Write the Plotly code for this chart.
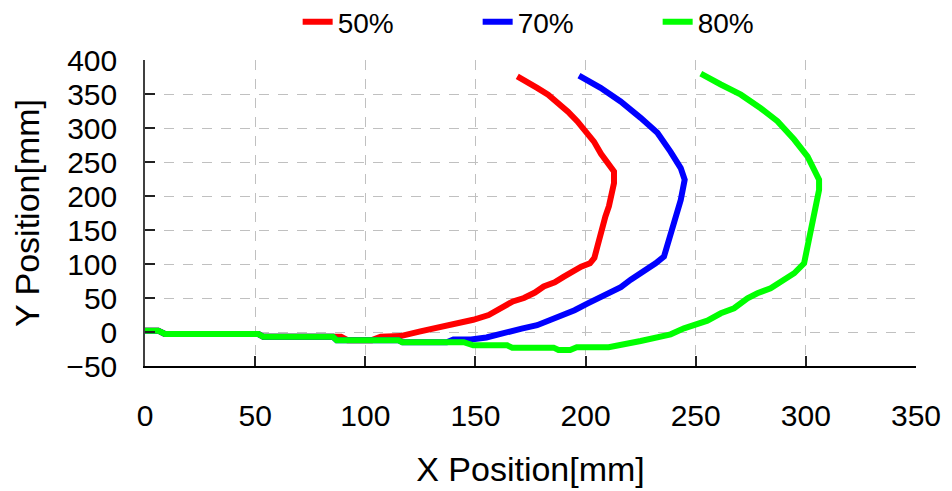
import plotly.graph_objects as go

# ---- data ----
series_names = ["50%", "70%", "80%"]
series_colors = ["#ff0000", "#0000ff", "#00ff00"]

x_50 = [0, 6, 9, 51.5, 53.7, 89, 92, 103, 107, 116, 125, 134, 142, 149, 156, 160, 163, 167, 172, 177,
        181, 186, 190, 194, 198, 202, 204, 205.3, 207.6, 209, 210.6, 212, 212.9, 212.9, 209.9, 207,
        203.8, 200, 196.2, 192, 187.1, 183, 178, 173, 169]
y_50 = [2, 2, -3, -3, -7, -7, -12, -12, -7, -6, 1, 7, 12, 18, 25, 32, 37, 45, 50, 58,
        67, 73, 81, 89, 96, 101, 109, 125, 155, 170, 185, 205, 219, 236, 248, 262,
        280, 296, 310, 324, 337, 349, 359, 369, 376]

x_70 = [0, 6, 9, 51.5, 53.7, 85.3, 87, 115, 117, 137, 140, 148, 155, 164, 171, 178, 184, 190, 195, 201,
        206, 211, 216, 220.5, 225, 231.8, 235.6, 237.9, 240.2, 243.2, 245, 243.2, 238.6, 232.6, 225,
        215.9, 206.8, 197]
y_70 = [2, 2, -3, -3, -7, -7, -12, -12, -15, -15, -11, -11, -8, 0, 5, 10, 17, 25, 32, 42,
        50, 57, 66, 77, 86, 101, 111, 135, 165, 194, 224, 241, 265, 293, 315,
        339, 359, 377]

x_80 = [0, 6, 9, 51.5, 53.7, 85.3, 87, 115, 116.7, 144.7, 149, 164.4, 166.7, 185.5, 187.7, 193, 196,
        210.5, 225, 238.6, 244.7, 250.8, 255.3, 261.4, 267.4, 273.5, 278, 284, 288.6, 294.7, 299.2,
        300.8, 303.8, 306, 306, 300.8, 294.7, 287.1, 279.5, 270.5, 261.4, 252.3]
y_80 = [2, 2, -3, -3, -7, -7, -12, -12, -15, -15, -19.6, -19.6, -23, -23, -26.5, -26.5, -22.5,
        -22.5, -13.3, -3.4, 5.4, 12.8, 16.7, 27.5, 34.9, 49.6, 57, 64.3, 74, 86.4, 101,
        125.6, 165, 209, 224, 258, 283, 310, 329, 349, 364, 380]

x_ticks = [0, 50, 100, 150, 200, 250, 300, 350]
y_ticks = [-50, 0, 50, 100, 150, 200, 250, 300, 350, 400]

FONT = "Liberation Sans, Arial, sans-serif"

fig = go.Figure()
for name, color, xs, ys in zip(series_names, series_colors, [x_50, x_70, x_80], [y_50, y_70, y_80]):
    assert len(xs) == len(ys)
    fig.add_trace(go.Scatter(x=xs, y=ys, mode="lines", name=name,
                             line=dict(color=color, width=6, shape="linear")))

axis_common = dict(
    showgrid=True, gridcolor="#c0c0c0", gridwidth=1, griddash="10px,9px",
    showline=True, linewidth=1.5, zeroline=False, automargin=False,
    ticks="inside", ticklen=10, tickwidth=1.5, tickcolor="#222222",
    tickfont=dict(family=FONT, size=30, color="#000000"),
)

fig.update_xaxes(range=[0, 350], tickvals=x_ticks, linecolor="#000000",
                 title=dict(text="X Position[mm]", font=dict(family=FONT, size=34, color="#000000"), standoff=26),
                 ticklabelstandoff=22, **axis_common)
fig.update_yaxes(range=[-50, 400], tickvals=y_ticks, linecolor="#404040",
                 title=dict(text="Y Position[mm]", font=dict(family=FONT, size=34, color="#000000"), standoff=24),
                 ticklabelstandoff=20, **axis_common)

# the page body has an 8px margin, so the figure is sized/placed to compensate
fig.update_layout(
    width=944, height=483,
    margin=dict(l=137, r=36, t=52, b=125, autoexpand=False),
    paper_bgcolor="#ffffff", plot_bgcolor="#ffffff",
    showlegend=True,
    legend=dict(orientation="h", x=0.198, xanchor="left", y=1.124, yanchor="middle",
                font=dict(family=FONT, size=28, color="#000000"),
                entrywidth=135, entrywidthmode="pixels", bgcolor="rgba(0,0,0,0)"),
)

fig.write_html("out.html")
